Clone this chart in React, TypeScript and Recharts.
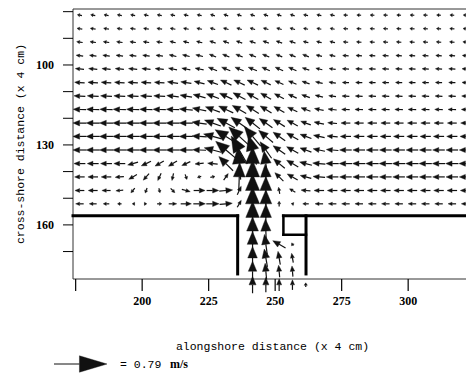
import React from 'react';
import { ScatterChart, Scatter, XAxis, YAxis, ReferenceLine, ReferenceArea } from 'recharts';

// grid positions (data units, x 4 cm)
const xs = [176.5, 181.5, 186.5, 191.5, 196.5, 201.5, 206.5, 211.5, 216.5, 221.5, 226.5, 231.5, 236.5, 241.5, 246.5, 251.5, 256.5, 261.5, 266.5, 271.5, 276.5, 281.5, 286.5, 291.5, 296.5, 301.5, 306.5, 311.5, 316.5, 321.5];
const ys = [81.3, 86.4, 91.4, 96.5, 101.5, 106.6, 111.7, 116.7, 121.8, 126.8, 131.9, 137.0, 142.0, 147.1, 152.1, 157.2, 162.3, 167.3, 172.4, 177.4, 182.5];

// speed in cm/s, direction in degrees (0 = +alongshore, 90 = offshore/up, 180 = -alongshore)
const speedRows = [
  [7, 7, 7, 7, 7, 7, 7, 7, 7, 7, 7, 7, 7, 7, 7, 7, 7, 7, 7, 7, 6.5, 6.5, 6.5, 6.5, 6.5, 6.5, 6.5, 6.5, 6.5, 6.5],
  [8, 8, 8, 8, 8, 8, 8, 8, 8, 8, 8, 8, 8, 8, 8, 8, 8, 7, 7, 7, 7, 7, 7, 7, 7, 7, 7, 7, 7, 7],
  [9, 9, 9, 9, 9, 9, 9, 9, 9, 9, 9.5, 9.5, 9.5, 9.5, 9.5, 9.5, 9.5, 8, 8, 8, 7.5, 7.5, 7.5, 7.5, 7.5, 7.5, 7.5, 7.5, 7.5, 7.5],
  [10.5, 10.5, 10.5, 10.5, 10.5, 10.5, 10.5, 11, 11, 11, 11, 11, 11, 11, 11, 10, 10, 10, 9, 9, 9, 9, 9, 9, 9, 9, 9, 9, 9, 9],
  [13, 13, 13, 13, 13, 13, 13, 13, 13, 13, 14, 14, 14, 14, 13, 13, 13, 11, 10, 10, 10, 10, 10, 10, 10, 10, 10, 10, 10, 10],
  [15, 15, 15, 15, 15, 15, 15, 16, 16, 16, 17, 18, 18, 18, 16, 14, 13, 12, 11, 10.5, 10, 10, 10, 10, 10, 10, 10, 10, 10, 10],
  [17, 17, 17, 17, 17, 17, 17, 18, 18, 19, 20, 21, 21, 20, 18, 16, 14, 13, 12, 11, 11, 11, 11, 11, 11, 11, 11, 11, 11, 11],
  [19, 19, 19, 19, 19, 19, 19, 19, 20, 21, 23, 24, 24, 22, 20, 18, 16, 15, 14, 13, 12, 12, 12, 12, 12, 12, 12, 12, 12, 12],
  [20, 20, 20, 20, 20, 20, 20, 20, 20, 22, 26, 30, 30, 28, 24, 20, 18, 16, 15, 14, 14, 14, 14, 14, 14, 14, 14, 14, 14, 14],
  [20, 20, 20, 20, 20, 20, 20, 20, 20, 22, 28, 38, 42, 38, 28, 22, 20, 18, 17, 16, 16, 16, 16, 16, 16, 16, 16, 16, 16, 16],
  [20, 20, 20, 20, 20, 20, 20, 20, 20, 20, 26, 40, 48, 45, 30, 22, 20, 18, 18, 18, 18, 18, 18, 18, 18, 18, 18, 18, 18, 18],
  [17, 17, 17, 17, 16, 16, 15, 15, 14, 13, 15, 30, 48, 50, 38, 22, 20, 19, 19, 19, 19, 19, 19, 19, 19, 19, 19, 19, 19, 19],
  [15, 15, 15, 13, 14, 13, 12, 11, 8, 6, 7, 12, 42, 50, 38, 18, 18, 17, 18, 18, 18, 18, 18, 18, 18, 18, 18, 18, 18, 18],
  [14, 14, 13, 11, 9, 8, 7, 9, 13, 17, 18, 20, 14, 50, 42, 10, 10, 14, 15, 15, 15, 15, 15, 15, 15, 15, 15, 15, 15, 15],
  [12, 11, 9, 6, 2, 2, 7, 12, 16, 18, 19, 19, 12, 50, 42, 8, 4, 9, 12, 12, 12, 12, 12, 12, 12, 12, 12, 12, 12, 12],
];
const dirRows = [
  [170, 170, 170, 170, 170, 170, 170, 168, 168, 168, 163, 163, 163, 163, 163, 163, 163, 168, 168, 168, 177, 177, 177, 177, 177, 177, 177, 177, 177, 177],
  [171, 171, 171, 171, 171, 171, 171, 168, 168, 168, 162, 162, 162, 162, 162, 162, 162, 167, 167, 167, 176, 176, 176, 176, 176, 176, 176, 176, 176, 176],
  [172, 172, 172, 172, 172, 172, 172, 167, 167, 167, 160, 160, 160, 160, 160, 160, 160, 166, 166, 166, 176, 176, 176, 176, 176, 176, 176, 176, 176, 176],
  [173, 173, 173, 173, 173, 173, 173, 167, 167, 167, 158, 158, 158, 158, 158, 158, 158, 158, 166, 166, 176, 176, 176, 176, 176, 176, 176, 176, 176, 176],
  [175, 175, 175, 175, 175, 175, 175, 169, 169, 169, 158, 158, 158, 158, 156, 156, 156, 162, 167, 172, 177, 177, 177, 177, 177, 177, 177, 177, 177, 177],
  [176, 176, 176, 176, 176, 176, 176, 172, 172, 166, 160, 155, 155, 155, 155, 156, 158, 162, 167, 172, 178, 178, 178, 178, 178, 178, 178, 178, 178, 178],
  [177, 177, 177, 177, 177, 177, 177, 174, 170, 165, 160, 155, 152, 150, 150, 152, 155, 160, 166, 172, 178, 178, 178, 178, 178, 178, 178, 178, 178, 178],
  [178, 178, 178, 178, 178, 178, 178, 178, 175, 168, 160, 155, 150, 148, 148, 150, 155, 160, 168, 173, 179, 179, 179, 179, 179, 179, 179, 179, 179, 179],
  [179, 179, 179, 179, 179, 179, 179, 179, 179, 172, 160, 152, 145, 142, 145, 148, 152, 160, 168, 175, 180, 180, 180, 180, 180, 180, 180, 180, 180, 180],
  [180, 180, 180, 180, 180, 180, 180, 180, 180, 176, 165, 148, 138, 130, 140, 145, 150, 160, 168, 175, 180, 180, 180, 180, 180, 180, 180, 180, 180, 180],
  [180, 180, 180, 180, 180, 180, 180, 180, 180, 178, 165, 140, 120, 105, 125, 145, 150, 160, 168, 175, 180, 180, 180, 180, 180, 180, 180, 180, 180, 180],
  [180, 180, 180, 180, 195, 205, 210, 212, 205, 185, 175, 135, 95, 90, 98, 140, 150, 165, 175, 180, 180, 180, 180, 180, 180, 180, 180, 180, 180, 180],
  [180, 180, 180, 185, 210, 228, 245, 258, 290, 200, 10, 55, 88, 90, 93, 135, 150, 165, 175, 180, 180, 180, 180, 180, 180, 180, 180, 180, 180, 180],
  [180, 180, 180, 185, 230, 250, 285, 315, 345, 0, 0, 5, 65, 90, 90, 100, 150, 175, 180, 180, 180, 180, 180, 180, 180, 180, 180, 180, 180, 180],
  [180, 180, 180, 180, 180, 0, 0, 0, 0, 0, 0, 5, 60, 90, 90, 90, 170, 180, 180, 180, 180, 180, 180, 180, 180, 180, 180, 180, 180, 180],
];
// inlet channel rows 15-19, columns 13-16
const channelCols = [13, 14, 15, 16];
const channelSpeed = [
  [48, 40, 0, 0],
  [42, 36, 0, 0],
  [38, 30, 22, 5],
  [34, 27, 20, 14],
  [30, 24, 18, 16],
];
const channelDir = [
  [90, 90, 0, 0],
  [90, 92, 0, 0],
  [90, 98, 150, 120],
  [90, 100, 100, 100],
  [90, 95, 95, 95],
];
// row 20, drawn below the frame
const outletCols = [13, 14, 15, 16, 17];
const outletSpeed = [25, 22, 18, 15, 6];
const outletDir = [90, 90, 90, 90, 90];

const xTicks = [175, 200, 225, 250, 275, 300];
const yTicks = [80, 90, 100, 110, 120, 130, 140, 150, 160, 170];
const yLabelled = [100, 130, 160];
const REF_SPEED = 79; // cm/s = 0.79 m/s

const X_DOMAIN: [number, number] = [174, 324];
const Y_DOMAIN: [number, number] = [79, 180.3];
const W = 466, H = 366;
const M = { top: 1, right: 2, left: 0, bottom: 0 };
const YW = 65, XH = 95;
const PLOT_W = W - M.left - M.right - YW;
const PLOT_H = H - M.top - M.bottom - XH;
const PXU = PLOT_W / (X_DOMAIN[1] - X_DOMAIN[0]);
const PYU = PLOT_H / (Y_DOMAIN[1] - Y_DOMAIN[0]);
const K = 53 / REF_SPEED; // px per cm/s

const INK = '#111';

function drawArrow(x0: number, y0: number, x1: number, y1: number, hr = 0.5, wr = 0.21, sw = 1.2) {
  const dx = x1 - x0, dy = y1 - y0;
  const L = Math.hypot(dx, dy);
  if (L < 0.5) return <g />;
  const ux = dx / L, uy = dy / L;
  const h = Math.max(L * hr, 2.4);
  const w = Math.max(L * wr, 1.6);
  const bx = x1 - ux * h, by = y1 - uy * h;
  const px = -uy, py = ux;
  return (
    <g>
      <line x1={x0} y1={y0} x2={bx} y2={by} stroke={INK} strokeWidth={sw} />
      <polygon points={`${x1},${y1} ${bx + px * w},${by + py * w} ${bx - px * w},${by - py * w}`} fill={INK} stroke={INK} strokeWidth={0.4} strokeLinejoin="round" />
    </g>
  );
}

const points: { x: number; y: number; s: number; d: number }[] = [];
speedRows.forEach((row, j) => {
  row.forEach((s, i) => {
    if (s > 0) points.push({ x: xs[i], y: ys[j], s, d: dirRows[j][i] });
  });
});
channelSpeed.forEach((row, k) => {
  row.forEach((s, c) => {
    if (s > 0) points.push({ x: xs[channelCols[c]], y: ys[15 + k], s, d: channelDir[k][c] });
  });
});

const ArrowShape = (props: any) => {
  const { cx, cy, payload } = props;
  const L = payload.s * K;
  const a = (payload.d * Math.PI) / 180;
  const dx = L * Math.cos(a), dy = -L * Math.sin(a);
  return drawArrow(cx - dx / 2, cy - dy / 2, cx + dx / 2, cy + dy / 2);
};

const outletSegments = outletCols.map((c, k) => {
  const L = outletSpeed[k] * K;
  const a = (outletDir[k] * Math.PI) / 180;
  const dxU = (L * Math.cos(a)) / PXU;
  const dyU = (L * Math.sin(a)) / PYU;
  const x = xs[c], y = ys[20];
  return [
    { x: x - dxU / 2, y: y + dyU / 2 },
    { x: x + dxU / 2, y: y - dyU / 2 },
  ];
});

const WALL_Y = 156.6;
const walls = [
  { seg: [{ x: 174, y: WALL_Y }, { x: 235.9, y: WALL_Y }], w: 3 },
  { seg: [{ x: 235.9, y: WALL_Y }, { x: 235.9, y: 178.4 }], w: 3 },
  { seg: [{ x: 253.1, y: WALL_Y }, { x: 324, y: WALL_Y }], w: 3 },
  { seg: [{ x: 253.1, y: WALL_Y }, { x: 253.1, y: 163.7 }], w: 2.5 },
  { seg: [{ x: 253.1, y: 163.7 }, { x: 261.6, y: 163.7 }], w: 2.5 },
  { seg: [{ x: 261.6, y: WALL_Y }, { x: 261.6, y: 178.4 }], w: 3 },
];

const tickFont = { fontFamily: '"Liberation Serif", serif', fontWeight: 'bold' as const, fontSize: 12, fill: '#000' };
const monoFont = '"Liberation Mono", "DejaVu Sans Mono", monospace';

export default function App() {
  return (
    <div style={{ position: 'relative', width: W, height: H }}>
      <ScatterChart width={W} height={H} margin={M}>
        <ReferenceArea x1={X_DOMAIN[0]} x2={X_DOMAIN[1]} y1={Y_DOMAIN[0]} y2={Y_DOMAIN[1]} fill="none" fillOpacity={0} stroke="#333" strokeWidth={1} ifOverflow="visible" />
        <XAxis
          type="number"
          dataKey="x"
          domain={X_DOMAIN}
          ticks={xTicks}
          interval={0}
          axisLine={false}
          tickLine={{ stroke: '#000', strokeWidth: 1.2 }}
          tickSize={12}
          tickMargin={5}
          height={XH}
          tick={tickFont}
          tickFormatter={(v: number) => (v === 175 ? '' : String(v))}
          label={{ value: 'alongshore distance (x 4 cm)', position: 'insideBottom', offset: 24, style: { fontFamily: monoFont, fontSize: 11.5, fill: '#000' } }}
        />
        <YAxis
          type="number"
          dataKey="y"
          domain={Y_DOMAIN}
          reversed
          ticks={yTicks}
          interval={0}
          axisLine={false}
          tickLine={{ stroke: '#000', strokeWidth: 1 }}
          tickSize={10}
          tickMargin={9}
          width={YW}
          tick={tickFont}
          tickFormatter={(v: number) => (yLabelled.includes(v) ? String(v) : '')}
          label={{ value: 'cross-shore distance (x 4 cm)', angle: -90, position: 'insideLeft', offset: 12, style: { fontFamily: monoFont, fontSize: 11.5, fill: '#000', textAnchor: 'middle' } }}
        />
        <Scatter data={points} shape={ArrowShape} isAnimationActive={false} />
        {outletSegments.map((seg, k) => (
          <ReferenceLine key={'o' + k} segment={seg} ifOverflow="visible" shape={(p: any) => drawArrow(p.x1, p.y1, p.x2, p.y2)} />
        ))}
        {walls.map((wl, k) => (
          <ReferenceLine key={'w' + k} segment={wl.seg} ifOverflow="visible" stroke="#000" strokeWidth={wl.w} strokeLinecap="square" />
        ))}
      </ScatterChart>
      <svg style={{ position: 'absolute', left: 0, top: 340 }} width={260} height={26}>
        {drawArrow(46, 16, 46 + REF_SPEED * K, 16, 0.52, 0.155, 1)}
        <text x={112} y={20} fontFamily={monoFont} fontSize={11.5} fill="#000">= 0.79</text>
        <text x={162} y={20} fontFamily='"Liberation Serif", serif' fontWeight="bold" fontSize={12} fill="#000">m/s</text>
      </svg>
    </div>
  );
}
